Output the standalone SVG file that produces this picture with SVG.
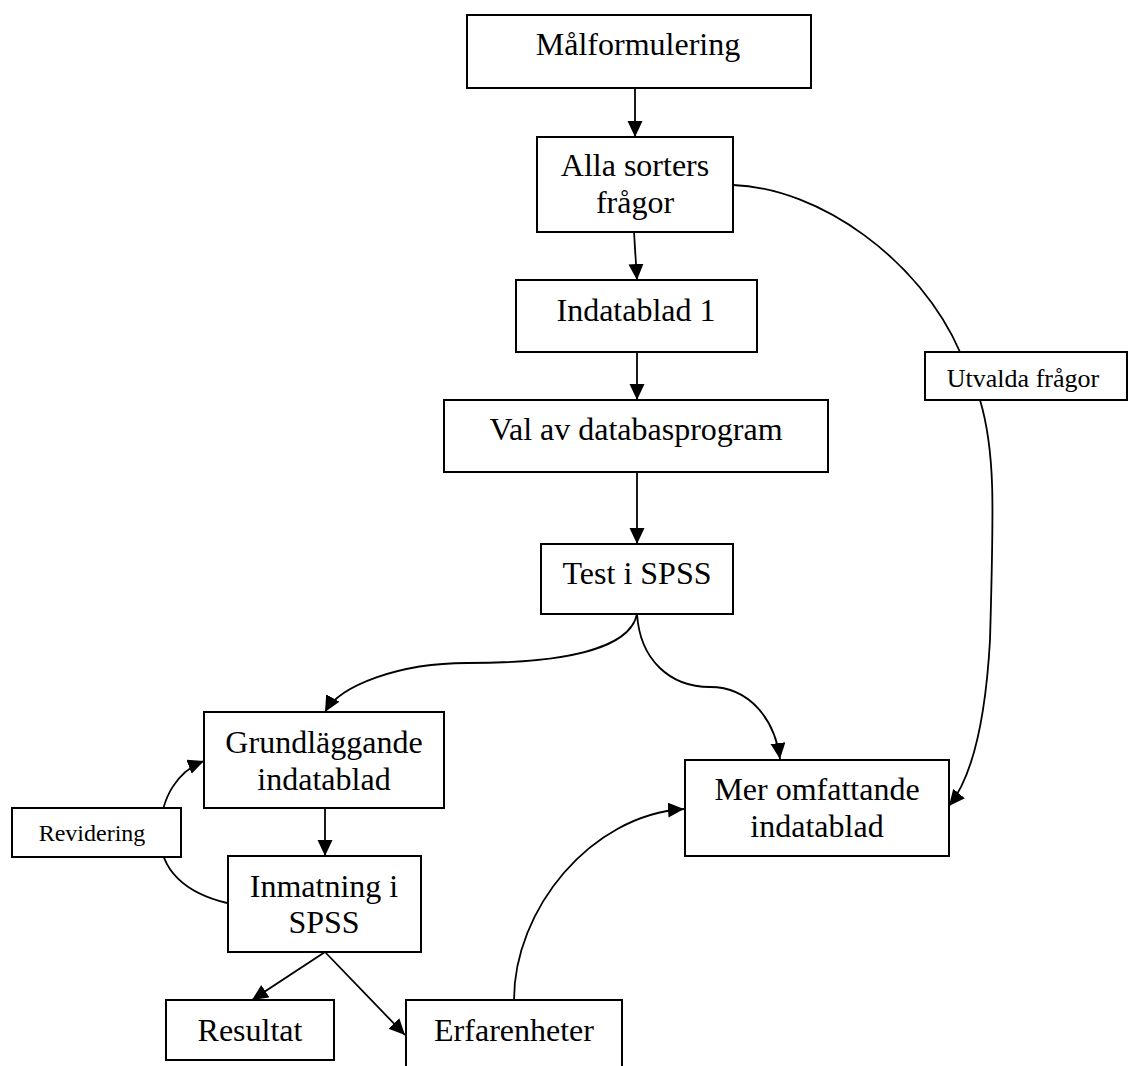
<svg xmlns="http://www.w3.org/2000/svg" width="1129" height="1066" viewBox="0 0 1129 1066">
<style>
.box{fill:#fff;stroke:#000;stroke-width:2}
.t{font-family:"Liberation Serif","Times New Roman",serif;font-size:32px;fill:#000;text-anchor:middle}
.s{font-size:24px}
.u{font-size:26px}
.c{fill:none;stroke:#000;stroke-width:1.8}
</style>
<defs>
<marker id="ah" markerUnits="userSpaceOnUse" markerWidth="17" markerHeight="16" refX="16" refY="7.5" orient="auto">
<path d="M0,0 L16,7.5 L0,15 z" fill="#000"/>
</marker>
</defs>
<rect width="1129" height="1066" fill="#fff"/>
<g id="connectors">
<path class="c" d="M635,88 L635,137" marker-end="url(#ah)"/>
<path class="c" d="M634,232 L637,280" marker-end="url(#ah)"/>
<path class="c" d="M637,352 L637,400" marker-end="url(#ah)"/>
<path class="c" d="M637,472 L637,544" marker-end="url(#ah)"/>
<path class="c" d="M637,614 C630,650 560,663 467,663 C400,663 340,685 325,712" marker-end="url(#ah)"/>
<path class="c" d="M637,614 C640,660 670,687 710,687 C750,687 775,720 780,759" marker-end="url(#ah)"/>
<path class="c" d="M733,185 C820,188 920,260 960,352"/>
<path class="c" d="M960,352 L980,400"/>
<path class="c" d="M980,400 C995,450 994,500 990,640 C985,730 970,780 949,806" marker-end="url(#ah)"/>
<path class="c" d="M325,808 L325,856" marker-end="url(#ah)"/>
<path class="c" d="M227,903 C185,893 160,870 160,835 C160,795 180,770 204,761" marker-end="url(#ah)"/>
<path class="c" d="M325,952 L252,1000" marker-end="url(#ah)"/>
<path class="c" d="M325,952 L405,1035" marker-end="url(#ah)"/>
<path class="c" d="M514,1000 C514,910 590,815 684,809" marker-end="url(#ah)"/>
</g>
<g id="n-malformulering"><rect class="box" x="467" y="15" width="344" height="73"/><text class="t" x="638" y="55">Målformulering</text></g>
<g id="n-alla"><rect class="box" x="537" y="137" width="196" height="95"/><text class="t" x="635" y="176">Alla sorters</text><text class="t" x="635" y="213">frågor</text></g>
<g id="n-indatablad1"><rect class="box" x="516" y="280" width="241" height="72"/><text class="t" x="636" y="321">Indatablad 1</text></g>
<g id="n-val"><rect class="box" x="444" y="400" width="384" height="72"/><text class="t" x="636" y="440">Val av databasprogram</text></g>
<g id="n-test"><rect class="box" x="541" y="544" width="192" height="70"/><text class="t" x="637" y="584">Test i SPSS</text></g>
<g id="n-utvalda"><rect class="box" x="925" y="352" width="202" height="48"/><text class="t u" x="1023" y="387">Utvalda frågor</text></g>
<g id="n-grund"><rect class="box" x="204" y="712" width="240" height="96"/><text class="t" x="324" y="753">Grundläggande</text><text class="t" x="324" y="790">indatablad</text></g>
<g id="n-mer"><rect class="box" x="685" y="760" width="264" height="96"/><text class="t" x="817" y="800">Mer omfattande</text><text class="t" x="817" y="837">indatablad</text></g>
<g id="n-revidering"><rect class="box" x="12" y="808" width="169" height="49"/><text class="t s" x="92" y="841">Revidering</text></g>
<g id="n-inmatning"><rect class="box" x="228" y="856" width="193" height="96"/><text class="t" x="324" y="897">Inmatning i</text><text class="t" x="324" y="933">SPSS</text></g>
<g id="n-resultat"><rect class="box" x="166" y="1000" width="168" height="60"/><text class="t" x="250" y="1041">Resultat</text></g>
<g id="n-erfarenheter"><rect class="box" x="406" y="1000" width="216" height="80"/><text class="t" x="514" y="1041">Erfarenheter</text></g>
</svg>
